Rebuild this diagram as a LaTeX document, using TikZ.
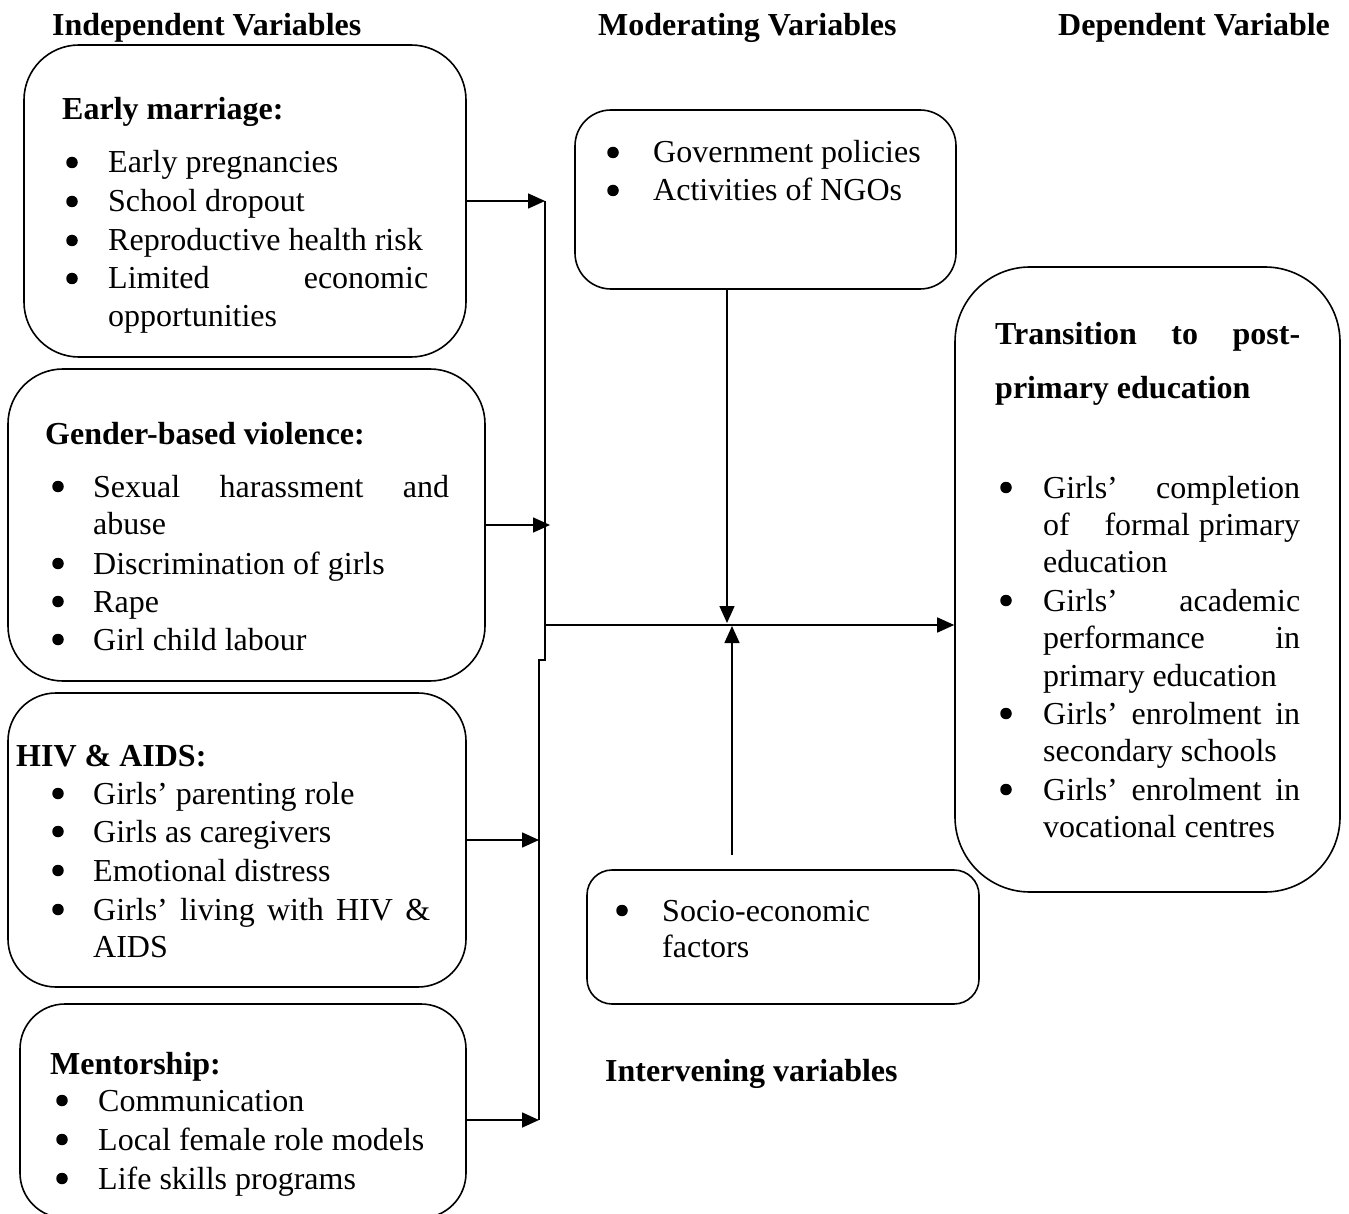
\documentclass[tikz,border=0pt]{standalone}
\usepackage{fontspec}
\setmainfont{Liberation Serif}
\usetikzlibrary{arrows.meta}
\begin{document}
\begin{tikzpicture}[x=1pt,y=-1pt,
  box/.style={draw, line width=1.6pt, rounded corners=#1, inner sep=0pt},
  txt/.style={anchor=base west, inner sep=0pt, font=\fontsize{32}{38.5}\selectfont},
  hd/.style={anchor=base west, inner sep=0pt, font=\fontsize{32}{38.5}\selectfont\bfseries},
  bul/.style={circle, fill, inner sep=0pt, minimum size=11.5pt, yshift=10.5pt},
  ln/.style={line width=1.6pt},
  arr/.style={line width=1.6pt, -{Triangle[length=17pt,width=15pt]}}]
\useasboundingbox (0,0) rectangle (1349,1214);

% headers
\node[hd] (hInd) at (52,36) {Independent Variables};
\node[hd] (hMod) at (598,36) {Moderating Variables};
\node[hd] (hDep) at (1058,36) {Dependent Variable};
\node[hd] (hInt) at (605,1081) {Intervening variables};

% boxes
\node[box=55pt, minimum width=442pt, minimum height=312pt] (b1) at (245,201) {};
\node[box=55pt, minimum width=477pt, minimum height=312pt] (b2) at (246.5,525) {};
\node[box=48pt, minimum width=458pt, minimum height=294pt] (b3) at (237,840) {};
\node[box=45pt, minimum width=446pt, minimum height=214pt] (b4) at (243,1111) {};
\node[box=36pt, minimum width=381pt, minimum height=179pt] (mod) at (765.5,199.5) {};
\node[box=75pt, minimum width=385pt, minimum height=625pt] (dep) at (1147.5,579.5) {};
\node[box=25pt, minimum width=392pt, minimum height=134pt] (soc) at (783,937) {};

% box 1
\node[hd] (t1h) at (62,120) {Early marriage:};
\foreach \y/\t [count=\i] in {173/Early pregnancies,212/School dropout,251/Reproductive health risk,327/opportunities}{
  \node[txt] (t1l\i) at (108,\y) {\t};}
\node[txt] (t1x) at (108,289) {\hbox to 320pt{Limited\hfill economic}};
\foreach \y [count=\i] in {173,212,251,289}{\node[bul] (t1b\i) at (72,\y) {};}

% box 2
\node[hd] (t2h) at (45,444) {Gender-based violence:};
\node[txt] (t2x) at (93,497) {\hbox to 356pt{Sexual\hfill harassment\hfill and}};
\foreach \y/\t [count=\i] in {534/abuse,574/Discrimination of girls,612/Rape,650/Girl child labour}{
  \node[txt] (t2l\i) at (93,\y) {\t};}
\foreach \y [count=\i] in {497,574,612,650}{\node[bul] (t2b\i) at (58,\y) {};}

% box 3
\node[hd] (t3h) at (16,766) {HIV \& AIDS:};
\foreach \y/\t [count=\i] in {804/Girls’ parenting role,842/Girls as caregivers,881/Emotional distress,957/AIDS}{
  \node[txt] (t3l\i) at (93,\y) {\t};}
\node[txt] (t3x) at (93,920) {\hbox to 337pt{Girls’\hfill living\hfill with\hfill HIV\hfill \&}};
\foreach \y [count=\i] in {804,842,881,920}{\node[bul] (t3b\i) at (58,\y) {};}

% box 4
\node[hd] (t4h) at (50,1074) {Mentorship:};
\foreach \y/\t [count=\i] in {1111/Communication,1150/Local female role models,1189/Life skills programs}{
  \node[txt] (t4l\i) at (98,\y) {\t};
  \node[bul] (t4b\i) at (62,\y) {};}

% moderating
\foreach \y/\t [count=\i] in {163/Government policies,201/Activities of NGOs}{
  \node[txt] (tml\i) at (653,\y) {\t};
  \node[bul] (tmb\i) at (613,\y) {};}

% socio
\node[txt] (tsl1) at (662,921) {Socio-economic};
\node[txt] (tsl2) at (662,957) {factors};
\node[bul] (tsb1) at (622,921) {};

% dependent
\node[hd] (tdh1) at (995,345) {\hbox to 305pt{Transition\hfill to\hfill post-}};
\node[hd] (tdh2) at (995,399) {primary education};
\node[txt] (td1) at (1043,498) {\hbox to 257pt{Girls’\hfill completion}};
\node[txt] (td2) at (1043,535) {\hbox to 257pt{of\hfill formal\hskip 9pt primary}};
\node[txt] (td3) at (1043,572) {education};
\node[txt] (td4) at (1043,611) {\hbox to 257pt{Girls’\hfill academic}};
\node[txt] (td5) at (1043,648) {\hbox to 257pt{performance\hfill in}};
\node[txt] (td6) at (1043,686) {primary education};
\node[txt] (td7) at (1043,724) {\hbox to 257pt{Girls’\hfill enrolment\hfill in}};
\node[txt] (td8) at (1043,761) {secondary schools};
\node[txt] (td9) at (1043,800) {\hbox to 257pt{Girls’\hfill enrolment\hfill in}};
\node[txt] (td10) at (1043,837) {vocational centres};
\foreach \y [count=\i] in {498,611,724,800}{\node[bul] (tdb\i) at (1006,\y) {};}

% connectors
\coordinate (j1) at (545,201);
\coordinate (j2) at (545,660);
\coordinate (j3) at (539,660);
\coordinate (j4) at (539,1120);
\coordinate (t2) at (550,525);
\coordinate (t3) at (539,840);
\coordinate (mj) at (545,625);
\coordinate (dn) at (727,623);
\coordinate (up0) at (732,855);
\coordinate (up1) at (732,626);
\draw[ln] (j1) -- (j2) -- (j3) -- (j4);
\draw[arr] (b1.east) -- (j1);
\draw[arr] (b2.east) -- (t2);
\draw[arr] (b3.east) -- (t3);
\draw[arr] (b4.east |- j4) -- (j4);
\draw[arr] (mj) -- (mj -| dep.west);
\draw[arr] (mod.south -| dn) -- (dn);
\draw[arr] (up0) -- (up1);
\end{tikzpicture}
\end{document}
